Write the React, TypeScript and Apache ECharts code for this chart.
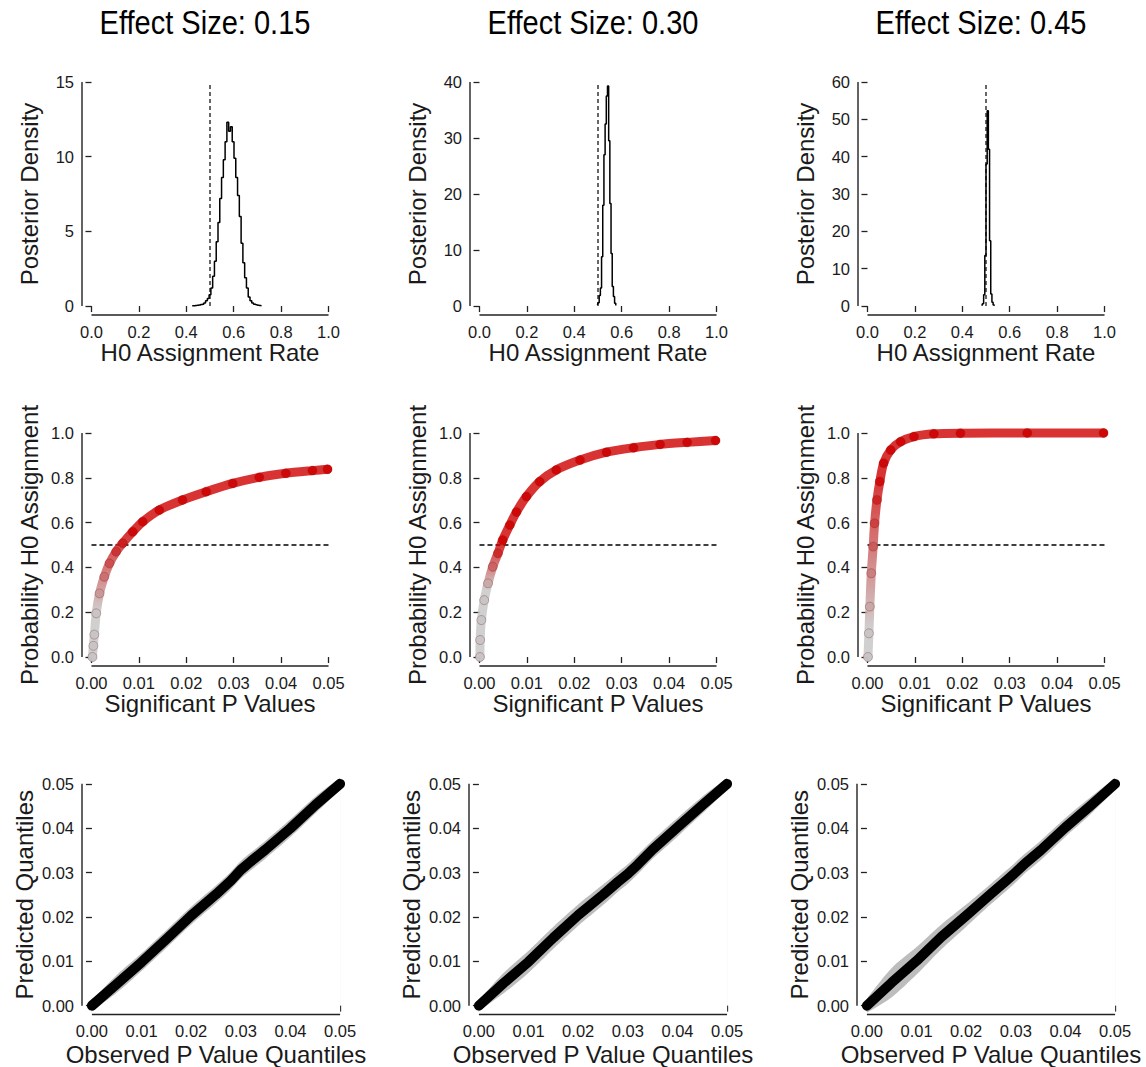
import React, { useEffect, useRef } from "react";
import * as echarts from "echarts";

// ---------- text ----------
const TITLES = ["Effect Size: 0.15", "Effect Size: 0.30", "Effect Size: 0.45"];
const X_NAMES = ["H0 Assignment Rate", "Significant P Values", "Observed P Value Quantiles"];
const Y_NAMES = ["Posterior Density", "Probability H0 Assignment", "Predicted Quantiles"];

// ---------- ticks ----------
const RATE_TICKS = [0, 0.2, 0.4, 0.6, 0.8, 1.0];
const DENS_TICKS = [
  [0, 5, 10, 15],
  [0, 10, 20, 30, 40],
  [0, 10, 20, 30, 40, 50, 60],
];
const P_TICKS = [0, 0.01, 0.02, 0.03, 0.04, 0.05];
const PROB_TICKS = [0, 0.2, 0.4, 0.6, 0.8, 1.0];
const H0_RATE = 0.5;
const PROB_CUT = 0.5;

// ---------- row 1: posterior densities (bin centres / heights) ----------
const HIST1_X = [0.425, 0.4325, 0.44, 0.4475, 0.455, 0.4625, 0.47, 0.4775, 0.485, 0.4925, 0.5, 0.5075, 0.515, 0.5225, 0.53, 0.5375, 0.545, 0.5525, 0.56, 0.5675, 0.575, 0.5825, 0.59, 0.5975, 0.605, 0.6125, 0.62, 0.6275, 0.635, 0.6425, 0.65, 0.6575, 0.665, 0.6725, 0.68, 0.6875, 0.695, 0.7025, 0.71, 0.7175];
const HIST1_Y = [0.02, 0.02, 0.03, 0.05, 0.07, 0.1, 0.12, 0.2, 0.35, 0.5, 0.75, 1.2, 2.0, 3.0, 4.3, 5.6, 7.2, 8.6, 9.8, 11.0, 12.3, 11.7, 12.0, 11.0, 9.9, 8.6, 7.4, 6.0, 4.2, 2.9, 1.9, 1.2, 0.6, 0.35, 0.2, 0.12, 0.08, 0.05, 0.03, 0.02];
const HIST2_X = [0.4975, 0.5025, 0.5075, 0.5125, 0.5175, 0.5225, 0.5275, 0.5325, 0.5375, 0.5425, 0.5475, 0.5525, 0.5575, 0.5625, 0.5675, 0.5725, 0.5775];
const HIST2_Y = [0.2, 0.6, 1.9, 3.2, 8.8, 18, 27, 32.5, 37.5, 39.3, 29.5, 18.3, 9.4, 3.5, 1.7, 0.5, 0.1];
const HIST3_X = [0.4825, 0.4875, 0.4925, 0.4975, 0.5025, 0.5075, 0.5125, 0.5175, 0.5225, 0.5275, 0.5325, 0.5375];
const HIST3_Y = [0.1, 0.6, 3.0, 13.5, 38, 52.3, 42, 17.5, 3.2, 1.0, 0.3, 0.05];

// ---------- row 2: probability of H0 assignment vs significant p ----------
const SIG_P1 = [0.0002, 0.0004, 0.0006, 0.001, 0.0017, 0.0027, 0.0038, 0.0052, 0.0066, 0.0087, 0.0108, 0.0143, 0.0192, 0.0242, 0.0298, 0.0354, 0.041, 0.0466, 0.0498];
const PROB1 = [0.0, 0.05, 0.1, 0.195, 0.284, 0.358, 0.418, 0.47, 0.508, 0.559, 0.604, 0.656, 0.701, 0.738, 0.775, 0.802, 0.82, 0.832, 0.838];
const SIG_P2 = [0.0001, 0.00014, 0.0004, 0.001, 0.0018, 0.0028, 0.0039, 0.0049, 0.0064, 0.0078, 0.0099, 0.0127, 0.0162, 0.0212, 0.0268, 0.0325, 0.0381, 0.0438, 0.0498];
const PROB2 = [0.0, 0.076, 0.165, 0.254, 0.329, 0.403, 0.463, 0.522, 0.589, 0.647, 0.716, 0.783, 0.835, 0.879, 0.914, 0.934, 0.949, 0.958, 0.966];
const SIG_P3 = [0.0001, 0.0003, 0.0005, 0.0008, 0.0012, 0.0015, 0.002, 0.0026, 0.0034, 0.0049, 0.007, 0.0098, 0.014, 0.0196, 0.0337, 0.0498];
const PROB3 = [0.0, 0.106, 0.225, 0.374, 0.493, 0.597, 0.701, 0.783, 0.865, 0.924, 0.961, 0.984, 0.996, 0.999, 1.0, 1.0];

// ---------- row 3: Q-Q ----------
const QQ_OBS = [0, 0.005, 0.01, 0.015, 0.02, 0.025, 0.028, 0.03, 0.032, 0.035, 0.04, 0.045, 0.05];
const QQ_PRED1 = [0, 0.0049, 0.0098, 0.015, 0.0203, 0.0251, 0.0282, 0.0306, 0.0325, 0.0352, 0.04, 0.0452, 0.05];
const QQ_PRED2 = [0, 0.0051, 0.0099, 0.0153, 0.0204, 0.025, 0.0279, 0.0297, 0.0318, 0.0352, 0.0402, 0.0452, 0.05];
const QQ_PRED3 = [0, 0.0052, 0.0101, 0.0155, 0.0203, 0.0252, 0.0281, 0.0301, 0.0322, 0.035, 0.0402, 0.045, 0.05];
const QQ_BAND1 = [0.0012, 0.002, 0.002, 0.002, 0.002, 0.002, 0.002, 0.002, 0.002, 0.002, 0.002, 0.0019, 0.0013];
const QQ_BAND2 = [0.0012, 0.0023, 0.0025, 0.0025, 0.0024, 0.0023, 0.0022, 0.0022, 0.0022, 0.0021, 0.0021, 0.0019, 0.0013];
const QQ_BAND3 = [0.0016, 0.0033, 0.0031, 0.0028, 0.0025, 0.0023, 0.0023, 0.0023, 0.0022, 0.0022, 0.0021, 0.0019, 0.0013];

// ---------- layout / style ----------
const FONT = "'Liberation Sans', Arial, Helvetica, sans-serif";
const TXT = "#1a1a1a";
const AX = "#222222";
const GRID_LEFT = [[82, 470, 858], [82, 470, 858], [82, 469, 857]];
const GRID_TOP = [73, 424, 775];
const GRID_W = [256, 256, 268];
const GRID_H = 242;
const X_GAP = [25, 24, 27.5];
const Y_GAP = [41, 41, 46];
const TITLE_X = [205, 593, 981];
const GREY = "#c4c4c4";
const RED = "#cf0000";

function buildOption() {
  const grid: any[] = [];
  const xAxis: any[] = [];
  const yAxis: any[] = [];
  const series: any[] = [];
  const visualMap: any[] = [];

  const hists = [
    [HIST1_X, HIST1_Y],
    [HIST2_X, HIST2_Y],
    [HIST3_X, HIST3_Y],
  ];
  const sig = [
    [SIG_P1, PROB1, 0.2, 0.55],
    [SIG_P2, PROB2, 0.3, 0.5],
    [SIG_P3, PROB3, 0.12, 0.8],
  ];
  const qq = [
    [QQ_PRED1, QQ_BAND1],
    [QQ_PRED2, QQ_BAND2],
    [QQ_PRED3, QQ_BAND3],
  ];

  for (let r = 0; r < 3; r++) {
    for (let c = 0; c < 3; c++) {
      const gi = r * 3 + c;
      let xTicks: number[], yTicks: number[], xDec: number, yDec: number;
      if (r === 0) {
        xTicks = RATE_TICKS; yTicks = DENS_TICKS[c]; xDec = 1; yDec = 0;
      } else if (r === 1) {
        xTicks = P_TICKS; yTicks = PROB_TICKS; xDec = 2; yDec = 1;
      } else {
        xTicks = P_TICKS; yTicks = P_TICKS; xDec = 2; yDec = 2;
      }
      const x0 = xTicks[0], x1 = xTicks[xTicks.length - 1];
      const y0 = yTicks[0], y1 = yTicks[yTicks.length - 1];
      const xPad = (x1 - x0) * 0.04;
      const yPad = (y1 - y0) * 0.04;
      const xMin = x0 - xPad, xMax = x1 + xPad;
      const yMin = y0 - yPad, yMax = y1 + yPad;

      grid.push({ left: GRID_LEFT[r][c], top: GRID_TOP[r], width: GRID_W[r], height: GRID_H });
      xAxis.push({
        type: "value", gridIndex: gi, min: xMin, max: xMax,
        axisLine: { show: false },
        splitLine: { show: false },
        axisTick: { show: true, length: 6, customValues: xTicks, lineStyle: { color: AX, width: 1.3 } },
        axisLabel: {
          show: true, customValues: xTicks, margin: 8,
          formatter: (v: number) => v.toFixed(xDec),
          fontSize: 16.5, fontFamily: FONT, color: TXT,
        },
        name: X_NAMES[r], nameLocation: "middle", nameGap: X_GAP[r],
        nameTextStyle: { fontSize: 24, fontFamily: FONT, color: TXT },
      });
      yAxis.push({
        type: "value", gridIndex: gi, min: yMin, max: yMax,
        axisLine: { show: false },
        splitLine: { show: false },
        axisTick: { show: true, length: 6, customValues: yTicks, lineStyle: { color: AX, width: 1.3 } },
        axisLabel: {
          show: true, customValues: yTicks, margin: 8,
          formatter: (v: number) => v.toFixed(yDec),
          fontSize: 16.5, fontFamily: FONT, color: TXT,
        },
        name: Y_NAMES[r], nameLocation: "middle", nameGap: Y_GAP[r],
        nameTextStyle: { fontSize: 24, fontFamily: FONT, color: TXT },
      });

      // axis lines spanning first..last tick (R style)
      series.push({
        type: "line", xAxisIndex: gi, yAxisIndex: gi, silent: true, clip: false,
        symbol: "none", z: 10,
        data: [[x0, yMin], [x1, yMin]],
        lineStyle: { color: AX, width: 1.4 },
      });
      series.push({
        type: "line", xAxisIndex: gi, yAxisIndex: gi, silent: true, clip: false,
        symbol: "none", z: 10,
        data: [[xMin, y0], [xMin, y1]],
        lineStyle: { color: AX, width: 1.4 },
      });

      if (r === 0) {
        const [hx, hy] = hists[c];
        series.push({
          type: "line", xAxisIndex: gi, yAxisIndex: gi, silent: true, symbol: "none",
          data: [[H0_RATE, y0], [H0_RATE, y1]],
          lineStyle: { color: "#000", width: 1.2, type: [4, 3] }, z: 3,
        });
        series.push({
          type: "line", xAxisIndex: gi, yAxisIndex: gi, silent: true, symbol: "none",
          step: "middle",
          data: hx.map((x, k) => [x, hy[k]]),
          lineStyle: { color: "#000", width: 1.5 }, z: 4,
        });
      } else if (r === 1) {
        const [px, py, vmin, vmax] = sig[c] as any;
        series.push({
          type: "line", xAxisIndex: gi, yAxisIndex: gi, silent: true, symbol: "none",
          data: [[x0, PROB_CUT], [x1, PROB_CUT]],
          lineStyle: { color: "#000", width: 1.5, type: [5, 3] }, z: 2,
        });
        const idx = series.length;
        series.push({
          type: "line", xAxisIndex: gi, yAxisIndex: gi, silent: true, clip: false,
          smooth: 0.25,
          symbol: "circle", symbolSize: 9, showSymbol: true,
          data: (px as number[]).map((x, k) => [x, py[k]]),
          lineStyle: { width: 9, cap: "round", join: "round", opacity: 0.8 },
          itemStyle: { borderWidth: 1, borderColor: "rgba(120,20,20,0.35)", opacity: 0.85 },
          z: 3,
        });
        visualMap.push({
          type: "continuous", show: false, seriesIndex: idx, dimension: 1,
          min: vmin, max: vmax, inRange: { color: [GREY, RED] },
        });
      } else {
        const [pred, band] = qq[c];
        series.push({
          type: "line", xAxisIndex: gi, yAxisIndex: gi, silent: true, symbol: "none",
          smooth: 0.3,
          data: QQ_OBS.map((x, k) => [x, pred[k] + band[k]]),
          lineStyle: { width: 0, opacity: 0 },
          areaStyle: { color: "#bdbdbd", opacity: 1, origin: "start" },
          z: 2,
        });
        series.push({
          type: "line", xAxisIndex: gi, yAxisIndex: gi, silent: true, symbol: "none",
          smooth: 0.3,
          data: QQ_OBS.map((x, k) => [x, pred[k] - band[k]]),
          lineStyle: { width: 0, opacity: 0 },
          areaStyle: { color: "#ffffff", opacity: 1, origin: "start" },
          z: 3,
        });
        series.push({
          type: "line", xAxisIndex: gi, yAxisIndex: gi, silent: true, symbol: "none",
          clip: false,
          data: QQ_OBS.map((x, k) => [x, pred[k]]),
          lineStyle: { width: 10, color: "#000", cap: "round", join: "round" },
          z: 4,
        });
      }
    }
  }

  const graphic = TITLES.map((t, i) => ({
    type: "text",
    x: TITLE_X[i],
    y: 23,
    scaleX: 0.88,
    style: {
      text: t,
      fill: "#000",
      fontSize: 33,
      fontFamily: FONT,
      align: "center",
      verticalAlign: "middle",
      textAlign: "center",
      textVerticalAlign: "middle",
    },
  }));

  return {
    animation: false,
    backgroundColor: "#ffffff",
    grid,
    xAxis,
    yAxis,
    series,
    visualMap,
    graphic,
  };
}

export default function App() {
  const ref = useRef<HTMLDivElement>(null);
  useEffect(() => {
    if (!ref.current) return;
    const chart = echarts.init(ref.current, null, { renderer: "svg" });
    chart.setOption(buildOption() as any);
    return () => chart.dispose();
  }, []);
  return (
    <div
      ref={ref}
      style={{ position: "absolute", left: 0, top: 0, width: 1146, height: 1067, background: "#fff" }}
    />
  );
}
